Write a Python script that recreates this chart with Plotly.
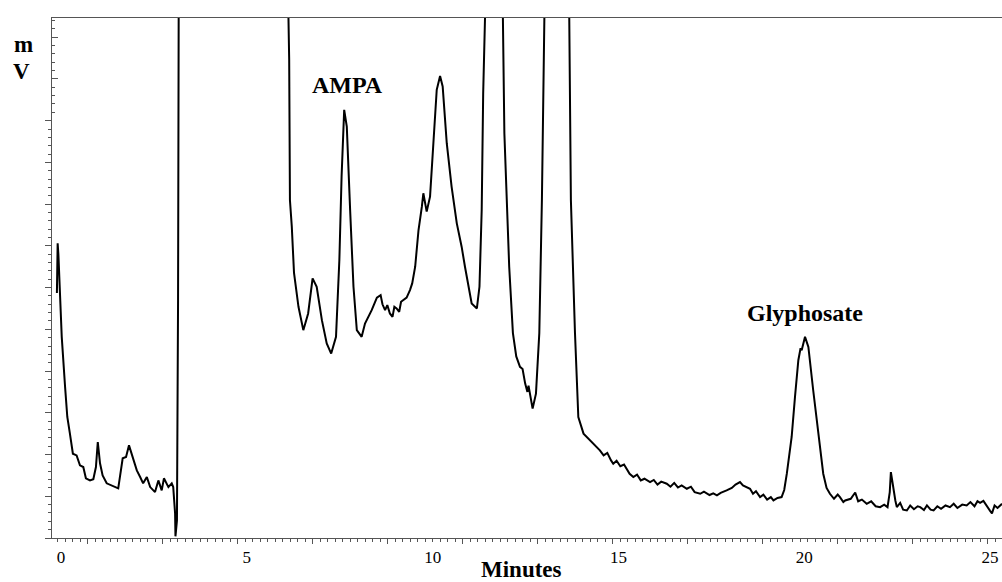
import plotly.graph_objects as go

# Chromatogram trace (retention time in minutes, detector signal in mV, arbitrary scale)
time_min = [
    -0.11, -0.09, -0.07, 0.02, 0.11, 0.17, 0.24, 0.32, 0.42, 0.51, 0.60, 0.67, 0.78, 0.87, 0.94, 0.99,
    1.05, 1.12, 1.23, 1.36, 1.54, 1.66, 1.75, 1.83, 1.93, 2.04, 2.13, 2.21, 2.31, 2.40, 2.53, 2.62,
    2.71, 2.77, 2.89, 2.98, 3.02, 3.07, 3.08, 3.12, 3.15, 3.17, 3.6, 4.5, 5.5, 6.05, 6.12, 6.14,
    6.16, 6.21, 6.27, 6.39, 6.52, 6.65, 6.77, 6.88, 7.02, 7.15, 7.27, 7.40, 7.49, 7.55, 7.62, 7.69,
    7.78, 7.87, 7.96, 8.09, 8.18, 8.36, 8.50, 8.60, 8.65, 8.72, 8.78, 8.85, 8.92, 8.97, 9.03, 9.10,
    9.15, 9.21, 9.30, 9.39, 9.45, 9.53, 9.62, 9.71,
    9.75, 9.84, 9.93, 10.02, 10.11, 10.20, 10.27, 10.38, 10.51, 10.65, 10.78, 10.87, 10.96, 11.05, 11.19, 11.26,
    11.32, 11.36, 11.41, 11.55, 11.70, 11.85, 11.89, 11.93, 12.06, 12.16, 12.25, 12.35, 12.42, 12.49, 12.55, 12.58,
    12.62, 12.69, 12.78, 12.87,
    12.94, 12.98, 13.00, 13.15, 13.35, 13.55, 13.67, 13.72, 13.83, 13.92, 14.06, 14.24, 14.42, 14.50,
    14.60, 14.70, 14.80, 14.86, 14.95, 15.05, 15.15, 15.22, 15.30, 15.40, 15.50, 15.60, 15.70, 15.85,
    15.95, 16.05, 16.15, 16.30, 16.40, 16.50, 16.60, 16.70, 16.84, 16.95, 17.05, 17.20, 17.30, 17.45,
    17.55, 17.65, 17.75, 17.91, 18.05, 18.15, 18.27, 18.35, 18.45, 18.54, 18.62, 18.70, 18.81, 18.90,
    19.00, 19.10, 19.17, 19.28, 19.39, 19.46, 19.53, 19.66, 19.75, 19.84, 19.90, 19.93, 20.02, 20.11,
    20.24, 20.38, 20.51, 20.60, 20.69, 20.80, 20.90, 20.96, 21.05, 21.10, 21.25, 21.37, 21.45, 21.55,
    21.68, 21.80, 21.92, 22.04, 22.15, 22.24, 22.30, 22.33, 22.37, 22.40, 22.45, 22.49, 22.58, 22.66,
    22.76, 22.85, 22.95, 23.05, 23.12, 23.22, 23.30, 23.40, 23.48, 23.58, 23.68, 23.80, 23.92, 24.02,
    24.12, 24.25, 24.37, 24.47, 24.58, 24.66, 24.73, 24.82, 24.92, 25.00, 25.05, 25.12, 25.20, 25.32,
]
signal_mv = [
    58.7, 70.6, 68.0, 48.2, 36.2, 29.0, 25.0, 20.2, 19.8, 17.4, 17.0, 14.3, 13.8, 14.1, 17.0, 23.0,
    17.9, 15.0, 13.1, 12.6, 11.9, 19.1, 19.4, 22.2, 19.4, 16.2, 14.6, 13.1, 14.6, 12.2, 11.0, 13.8,
    11.4, 14.3, 12.2, 13.1, 12.2, 5.9, 0.4, 4.2, 57.0, 140.0, 300.0, 400.0, 300.0, 150.0, 124.9, 114.6,
    81.0, 74.6, 63.5, 55.4, 49.8, 53.8, 62.2, 60.2, 52.2, 46.6, 44.2, 48.2, 66.6, 86.6, 102.6, 98.6,
    78.6, 60.2, 49.8, 48.2, 51.4, 54.6, 57.6, 58.2, 56.0, 54.6, 55.8, 53.8, 53.0, 55.4, 55.0, 54.2,
    56.6, 57.0, 57.6, 59.4, 61.0, 65.0, 73.8, 79.4,
    82.6, 78.2, 81.8, 94.6, 107.4, 110.7, 108.2, 94.6, 84.2, 75.4, 69.8, 65.0, 60.2, 56.2, 55.0, 60.2,
    78.6, 106.6, 124.9, 250.0, 300.0, 200.0, 124.9, 97.0, 65.0, 49.1, 43.5, 41.0, 40.5, 37.0, 35.0, 36.5,
    34.6, 31.0, 34.6, 49.1,
    81.0, 113.0, 124.9, 250.0, 350.0, 250.0, 124.9, 81.0, 49.1, 29.0, 25.0, 23.4, 21.8, 21.0,
    19.8, 20.4, 18.6, 17.8, 18.5, 17.2, 17.6, 16.6, 15.4, 14.6, 15.2, 13.8, 14.2, 13.4,
    13.9, 12.8, 13.5, 13.0, 12.3, 13.2, 12.1, 12.6, 11.8, 12.3, 11.0, 10.6, 11.1, 10.3,
    10.7, 10.2, 10.8, 11.4, 12.0, 12.8, 13.4, 12.6, 12.2, 11.8, 10.6, 11.2, 9.8, 10.4,
    9.2, 9.8, 9.0, 9.6, 9.8, 11.5, 15.4, 24.2, 33.8, 42.6, 45.5, 45.0, 48.2, 45.8,
    35.4, 24.2, 15.4, 12.0, 10.6, 9.4, 10.4, 9.8, 8.6, 9.0, 9.4, 10.9, 8.8, 9.2,
    8.2, 8.8, 7.6, 7.4, 8.0, 7.4, 11.0, 15.8, 13.5, 11.4, 9.0, 7.4, 8.4, 6.8,
    6.6, 7.8, 6.9, 7.6, 7.4, 6.7, 7.8, 6.8, 6.6, 7.6, 7.0, 7.8, 7.4, 8.2,
    7.2, 8.0, 7.8, 8.6, 7.6, 8.8, 8.4, 8.9, 7.4, 6.5, 5.9, 7.8, 7.2, 8.2,
]

x_tick_vals = [0, 5, 10, 15, 20, 25]
x_tick_text = ["0", "5", "10", "15", "20", "25"]

peak_labels = ["AMPA", "Glyphosate"]
peak_label_time = [7.72, 20.02]
peak_label_level = [108.6, 54.0]

X_RANGE = [-0.242, 25.32]
Y_RANGE = [0.0, 124.6]
AXIS_COLOR = "#555555"
SERIF = "Liberation Serif, Times New Roman, serif"

fig = go.Figure()
fig.add_trace(go.Scatter(
    x=time_min, y=signal_mv, mode="lines",
    line=dict(color="black", width=2), hoverinfo="skip", showlegend=False,
))
# dummy trace for the overlay tick axes
fig.add_trace(go.Scatter(x=[0], y=[0], xaxis="x2", yaxis="y2", mode="markers",
                         marker=dict(opacity=0), hoverinfo="skip", showlegend=False))

y_major_out = list(range(0, 101, 10))
y_minor_out = [v for v in range(2, 100, 2) if v % 10 != 0]
y_major_in = [110, 120]
y_minor_in = [v for v in range(102, 125, 2) if v % 10 != 0]

fig.update_layout(
    width=1002, height=582,
    margin=dict(l=52, r=0, t=18, b=44),
    paper_bgcolor="white", plot_bgcolor="white",
    font=dict(family=SERIF, color="black"),
    xaxis=dict(
        range=X_RANGE, showgrid=False, zeroline=False,
        showline=True, linecolor=AXIS_COLOR, linewidth=1, mirror=True,
        tickmode="array", tickvals=x_tick_vals, ticktext=x_tick_text,
        ticks="", ticklabelstandoff=4,
        tickfont=dict(family=SERIF, size=17, color="black"),
    ),
    yaxis=dict(
        range=Y_RANGE, showgrid=False, zeroline=False,
        showline=True, linecolor=AXIS_COLOR, linewidth=1,
        tickmode="array", tickvals=y_major_out, showticklabels=False,
        ticks="outside", ticklen=6, tickcolor=AXIS_COLOR, tickwidth=1,
        minor=dict(tickmode="array", tickvals=y_minor_out, ticks="outside",
                   ticklen=3, tickcolor=AXIS_COLOR, tickwidth=1, showgrid=False),
    ),
    xaxis2=dict(
        range=X_RANGE, overlaying="x", anchor="y2", side="bottom",
        showgrid=False, zeroline=False, showline=False, showticklabels=False,
        tickmode="linear", tick0=0.72, dtick=2.018,
        ticks="outside", ticklen=5, tickcolor=AXIS_COLOR, tickwidth=1,
        minor=dict(tickmode="linear", tick0=0.72, dtick=0.2018, ticks="outside",
                   ticklen=3, tickcolor=AXIS_COLOR, tickwidth=1, showgrid=False),
    ),
    yaxis2=dict(
        range=Y_RANGE, overlaying="y", anchor="x2", side="left",
        showgrid=False, zeroline=False, showline=False, showticklabels=False,
        tickmode="array", tickvals=y_major_in,
        ticks="inside", ticklen=6, tickcolor=AXIS_COLOR, tickwidth=1,
        minor=dict(tickmode="array", tickvals=y_minor_in, ticks="inside",
                   ticklen=3, tickcolor=AXIS_COLOR, tickwidth=1, showgrid=False),
    ),
)

for name, tx, ty in zip(peak_labels, peak_label_time, peak_label_level):
    fig.add_annotation(x=tx, y=ty, xref="x", yref="y", text=f"<b>{name}</b>",
                       showarrow=False, xanchor="center", yanchor="middle",
                       font=dict(family=SERIF, size=24, color="black"))

fig.add_annotation(x=-0.0305, y=0.949, xref="paper", yref="paper", text="<b>m</b>",
                   showarrow=False, xanchor="center", yanchor="middle",
                   font=dict(family=SERIF, size=23, color="black"))
fig.add_annotation(x=-0.0316, y=0.897, xref="paper", yref="paper", text="<b>V</b>",
                   showarrow=False, xanchor="center", yanchor="middle",
                   font=dict(family=SERIF, size=23, color="black"))
fig.add_annotation(x=0.4947, y=-0.061, xref="paper", yref="paper", text="<b>Minutes</b>",
                   showarrow=False, xanchor="center", yanchor="middle",
                   font=dict(family=SERIF, size=23, color="black"))

fig.write_html("out.html")
